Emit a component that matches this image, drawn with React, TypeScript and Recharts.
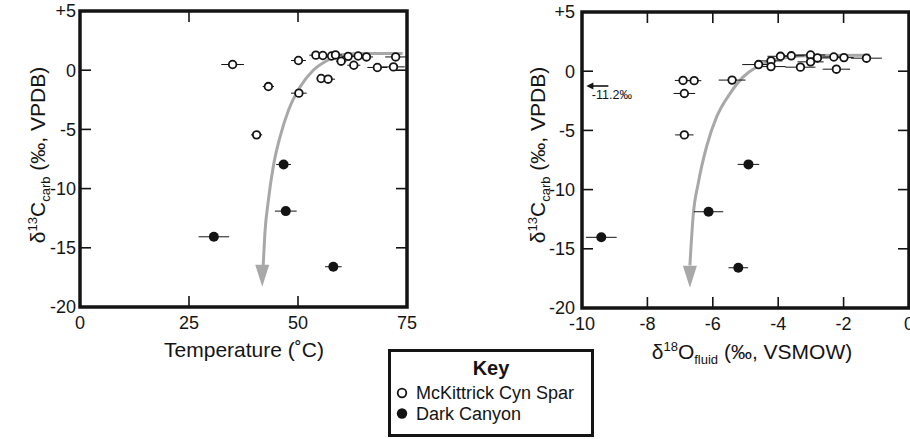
import React from 'react';
import { ComposedChart, Scatter, Line, XAxis, YAxis, ErrorBar, ReferenceArea } from 'recharts';

const FONT = '"Liberation Sans", Arial, Helvetica, sans-serif';
const INK = '#141414';

// ---------- Left panel: Temperature (°C) vs δ13C carb ----------
const tempMcKittrick = [
  { x: 35.0, y: 0.48, xe: 2.6 },
  { x: 50.1, y: 0.82, xe: 1.7 },
  { x: 54.1, y: 1.27, xe: 1.5 },
  { x: 55.7, y: 1.24, xe: 1.5 },
  { x: 57.7, y: 1.2, xe: 1.5 },
  { x: 58.6, y: 1.29, xe: 1.5 },
  { x: 59.9, y: 0.76, xe: 1.2 },
  { x: 61.5, y: 1.17, xe: 1.5 },
  { x: 62.8, y: 0.42, xe: 1.5 },
  { x: 63.8, y: 1.2, xe: 1.5 },
  { x: 65.7, y: 1.12, xe: 1.5 },
  { x: 68.2, y: 0.23, xe: 2.3 },
  { x: 71.9, y: 0.28, xe: 2.6 },
  { x: 72.4, y: 1.12, xe: 2.4 },
  { x: 43.2, y: -1.38, xe: 1.3 },
  { x: 50.2, y: -1.94, xe: 1.8 },
  { x: 55.3, y: -0.7, xe: 1.0 },
  { x: 56.9, y: -0.76, xe: 1.6 },
  { x: 40.5, y: -5.46, xe: 1.3 },
];
const tempDarkCanyon = [
  { x: 46.7, y: -7.96, xe: 1.7 },
  { x: 47.2, y: -11.9, xe: 2.5 },
  { x: 30.7, y: -14.07, xe: 3.5 },
  { x: 58.1, y: -16.6, xe: 1.9 },
];
const tempTrend = [
  { x: 42.0, y: -16.6 },
  { x: 42.4, y: -13.8 },
  { x: 43.2, y: -11.0 },
  { x: 44.3, y: -8.2 },
  { x: 45.9, y: -5.6 },
  { x: 47.8, y: -3.4 },
  { x: 50.5, y: -1.4 },
  { x: 53.5, y: 0.0 },
  { x: 56.6, y: 0.8 },
  { x: 60.0, y: 1.3 },
  { x: 65.0, y: 1.4 },
  { x: 74.0, y: 1.4 },
];
const tempTrendHead = [{ x: 41.8, y: -18.3 }];

// ---------- Right panel: δ18O fluid vs δ13C carb ----------
const fluidMcKittrick = [
  { x: -6.91, y: -0.78, xe: 0.25 },
  { x: -6.57, y: -0.8, xe: 0.22 },
  { x: -6.87, y: -1.88, xe: 0.33 },
  { x: -6.87, y: -5.38, xe: 0.28 },
  { x: -5.41, y: -0.75, xe: 0.41 },
  { x: -4.6, y: 0.56, xe: 0.5 },
  { x: -4.22, y: 0.87, xe: 0.35 },
  { x: -4.22, y: 0.39, xe: 0.45 },
  { x: -3.93, y: 1.26, xe: 0.4 },
  { x: -3.6, y: 1.3, xe: 0.4 },
  { x: -3.32, y: 0.34, xe: 0.46 },
  { x: -3.01, y: 1.37, xe: 0.45 },
  { x: -3.01, y: 0.79, xe: 0.4 },
  { x: -2.8, y: 1.12, xe: 0.35 },
  { x: -2.3, y: 1.2, xe: 0.35 },
  { x: -2.22, y: 0.17, xe: 0.42 },
  { x: -1.99, y: 1.15, xe: 0.3 },
  { x: -1.3, y: 1.1, xe: 0.47 },
];
const fluidDarkCanyon = [
  { x: -9.41, y: -14.03, xe: 0.47 },
  { x: -4.91, y: -7.87, xe: 0.33 },
  { x: -6.13, y: -11.87, xe: 0.45 },
  { x: -5.22, y: -16.6, xe: 0.3 },
];
const fluidTrend = [
  { x: -6.7, y: -16.4 },
  { x: -6.6, y: -12.2 },
  { x: -6.44, y: -9.4 },
  { x: -6.19, y: -6.36 },
  { x: -5.88, y: -3.84 },
  { x: -5.47, y: -1.87 },
  { x: -5.07, y: -0.48 },
  { x: -4.66, y: 0.36 },
  { x: -4.15, y: 0.92 },
  { x: -3.64, y: 1.2 },
  { x: -3.0, y: 1.32 },
  { x: -1.2, y: 1.35 },
];
const fluidTrendHead = [{ x: -6.7, y: -18.3 }];
const fluidOffscale = [{ x: -9.53, y: -1.25, label: '-11.2‰' }];

// ---------- Axes ----------
const tempTicks = [0, 25, 50, 75];
const fluidTicks = [-10, -8, -6, -4, -2, 0];
const carbTicks = [-20, -15, -10, -5, 0, 5];
const carbDomain = [-20, 5];

const seriesNames = ['McKittrick Cyn Spar', 'Dark Canyon'];

const PLOT_W = 327;
const PLOT_H = 296;
const TICK_PX = 11;

const OpenDot = (p: any) => (
  <circle cx={p.cx} cy={p.cy} r={3.8} fill="#fff" stroke={INK} strokeWidth={1.8} />
);
const FilledDot = (p: any) => <circle cx={p.cx} cy={p.cy} r={5} fill={INK} />;
const ArrowHead = (p: any) => (
  <polygon
    points={`${p.cx},${p.cy} ${p.cx - 7},${p.cy - 22} ${p.cx + 7},${p.cy - 22}`}
    fill="#a8a8a8"
  />
);
const OffscaleArrow = (p: any) => (
  <g>
    <line x1={p.cx - 8} y1={p.cy} x2={p.cx + 11} y2={p.cy} stroke={INK} strokeWidth={1.6} />
    <polygon
      points={`${p.cx - 11},${p.cy} ${p.cx - 4},${p.cy - 3.5} ${p.cx - 4},${p.cy + 3.5}`}
      fill={INK}
    />
    <text x={p.cx - 5.5} y={p.cy + 13} fontSize={12.5} fontFamily={FONT} fill={INK}>
      {(p.payload && p.payload.label) || fluidOffscale[0].label}
    </text>
  </g>
);

const fmtCarb = (v: number) => (v > 0 ? `+${v}` : `${v}`);

const LeftTickLabel = (p: any) => (
  <text x={p.x} y={p.y + 6.4} textAnchor="end" fontSize={18} fontFamily={FONT} fill={INK}>
    {fmtCarb(p.payload.value)}
  </text>
);
const BottomTickLabel = (p: any) => (
  <text x={p.x} y={p.y + 13} textAnchor="middle" fontSize={18} fontFamily={FONT} fill={INK}>
    {String(p.payload.value)}
  </text>
);

// inward tick marks on all four sides of a plot box, positioned with the same linear mapping as the axes
function FrameTicks({ left, top, xDomain, xTicks }: { left: number; top: number; xDomain: number[]; xTicks: number[] }) {
  const [x0, x1] = xDomain;
  const [y0, y1] = carbDomain;
  const sx = (v: number) => left + ((v - x0) / (x1 - x0)) * PLOT_W;
  const sy = (v: number) => top + ((y1 - v) / (y1 - y0)) * PLOT_H;
  const bottom = top + PLOT_H;
  const right = left + PLOT_W;
  return (
    <g stroke={INK} strokeWidth={1.6}>
      {xTicks.map((v) => (
        <g key={`x${v}`}>
          <line x1={sx(v)} x2={sx(v)} y1={bottom} y2={bottom - TICK_PX} />
          <line x1={sx(v)} x2={sx(v)} y1={top} y2={top + TICK_PX} />
        </g>
      ))}
      {carbTicks.map((v) => (
        <g key={`y${v}`}>
          <line x1={left} x2={left + TICK_PX} y1={sy(v)} y2={sy(v)} />
          <line x1={right} x2={right - TICK_PX} y1={sy(v)} y2={sy(v)} />
        </g>
      ))}
    </g>
  );
}

type PanelProps = {
  left: number;
  width: number;
  height: number;
  top: number;
  right: number;
  yAxisWidth: number;
  yTickMargin: number;
  xDomain: number[];
  xTicks: number[];
  open: any[];
  filled: any[];
  trend: any[];
  head: any[];
  extra?: any[];
};

function Panel(props: PanelProps) {
  const { left, width, height, top, right, yAxisWidth, yTickMargin, xDomain, xTicks, open, filled, trend, head, extra } = props;
  const [x0, x1] = xDomain;
  const [y0, y1] = carbDomain;
  return (
    <div style={{ position: 'absolute', left, top: 0, width, height }}>
      <ComposedChart
        width={width}
        height={height}
        margin={{ top, right, bottom: height - top - PLOT_H - 40, left: 0 }}
      >
        <XAxis
          type="number"
          dataKey="x"
          domain={xDomain}
          ticks={xTicks}
          allowDataOverflow
          interval={0}
          height={40}
          tickSize={0}
          tickMargin={9}
          axisLine={false}
          tickLine={false}
          tick={BottomTickLabel}
        />
        <YAxis
          type="number"
          dataKey="y"
          domain={carbDomain}
          ticks={carbTicks}
          allowDataOverflow
          interval={0}
          width={yAxisWidth}
          tickSize={0}
          tickMargin={yTickMargin}
          axisLine={false}
          tickLine={false}
          tick={LeftTickLabel}
        />
        <Line
          data={trend}
          dataKey="y"
          type="monotone"
          stroke="#a8a8a8"
          strokeWidth={3}
          dot={false}
          activeDot={false}
          isAnimationActive={false}
        />
        <Scatter data={head} dataKey="y" shape={ArrowHead} isAnimationActive={false} />
        <Scatter data={filled} dataKey="y" name={seriesNames[1]} shape={FilledDot} isAnimationActive={false}>
          <ErrorBar dataKey="xe" direction="x" width={0} stroke={INK} strokeWidth={1} isAnimationActive={false} />
        </Scatter>
        <Scatter data={open} dataKey="y" name={seriesNames[0]} shape={OpenDot} isAnimationActive={false}>
          <ErrorBar dataKey="xe" direction="x" width={0} stroke={INK} strokeWidth={1} isAnimationActive={false} />
        </Scatter>
        {extra ? (
          <Scatter data={extra} dataKey="y" shape={OffscaleArrow} isAnimationActive={false} />
        ) : null}
        <ReferenceArea
          x1={x0}
          x2={x1}
          y1={y0}
          y2={y1}
          ifOverflow="visible"
          fill="none"
          fillOpacity={0}
          stroke={INK}
          strokeWidth={3.5}
          strokeOpacity={1}
        />
      </ComposedChart>
    </div>
  );
}

function CarbLabel({ x, y }: { x: number; y: number }) {
  return (
    <text transform={`translate(${x},${y}) rotate(-90)`} textAnchor="middle" fontSize={21} fontFamily={FONT} fill={INK}>
      δ
      <tspan fontSize={13} dy={-8}>13</tspan>
      <tspan dy={8}>C</tspan>
      <tspan fontSize={13} dy={5}>carb</tspan>
      <tspan dy={-5}> (‰, VPDB)</tspan>
    </text>
  );
}

export default function App() {
  return (
    <div
      style={{
        position: 'absolute',
        left: 0,
        top: 0,
        width: 910,
        height: 439,
        background: '#fff',
        overflow: 'hidden',
        fontFamily: FONT,
      }}
    >
      <Panel
        left={0}
        width={440}
        height={390}
        top={11}
        right={33}
        yAxisWidth={80}
        yTickMargin={4}
        xDomain={[0, 75]}
        xTicks={tempTicks}
        open={tempMcKittrick}
        filled={tempDarkCanyon}
        trend={tempTrend}
        head={tempTrendHead}
      />
      <Panel
        left={440}
        width={470}
        height={390}
        top={12}
        right={1}
        yAxisWidth={142}
        yTickMargin={7}
        xDomain={[-10, 0]}
        xTicks={fluidTicks}
        open={fluidMcKittrick}
        filled={fluidDarkCanyon}
        trend={fluidTrend}
        head={fluidTrendHead}
        extra={fluidOffscale}
      />
      <svg
        width={910}
        height={439}
        style={{ position: 'absolute', left: 0, top: 0, pointerEvents: 'none' }}
      >
        <FrameTicks left={80} top={11} xDomain={[0, 75]} xTicks={tempTicks} />
        <FrameTicks left={582} top={12} xDomain={[-10, 0]} xTicks={fluidTicks} />
        <CarbLabel x={45} y={155} />
        <CarbLabel x={545} y={155} />
        <text x={244} y={357} textAnchor="middle" fontSize={21} fontFamily={FONT} fill={INK}>
          Temperature (˚C)
        </text>
        <text x={752} y={359} textAnchor="middle" fontSize={21} fontFamily={FONT} fill={INK}>
          δ
          <tspan fontSize={13} dy={-8}>18</tspan>
          <tspan dy={8}>O</tspan>
          <tspan fontSize={13} dy={5}>fluid</tspan>
          <tspan dy={-5}> (‰, VSMOW)</tspan>
        </text>
        <rect x={389.5} y={350.5} width={203} height={85} fill="#fff" stroke={INK} strokeWidth={3} />
        <text x={491} y={375} textAnchor="middle" fontSize={20} fontWeight="bold" fontFamily={FONT} fill={INK}>
          Key
        </text>
        <circle cx={402} cy={393} r={4.3} fill="#fff" stroke={INK} strokeWidth={1.8} />
        <text x={416} y={399} fontSize={18} fontFamily={FONT} fill={INK}>
          {seriesNames[0]}
        </text>
        <circle cx={402} cy={413.5} r={5.2} fill={INK} />
        <text x={416} y={420} fontSize={18} fontFamily={FONT} fill={INK}>
          {seriesNames[1]}
        </text>
      </svg>
    </div>
  );
}
